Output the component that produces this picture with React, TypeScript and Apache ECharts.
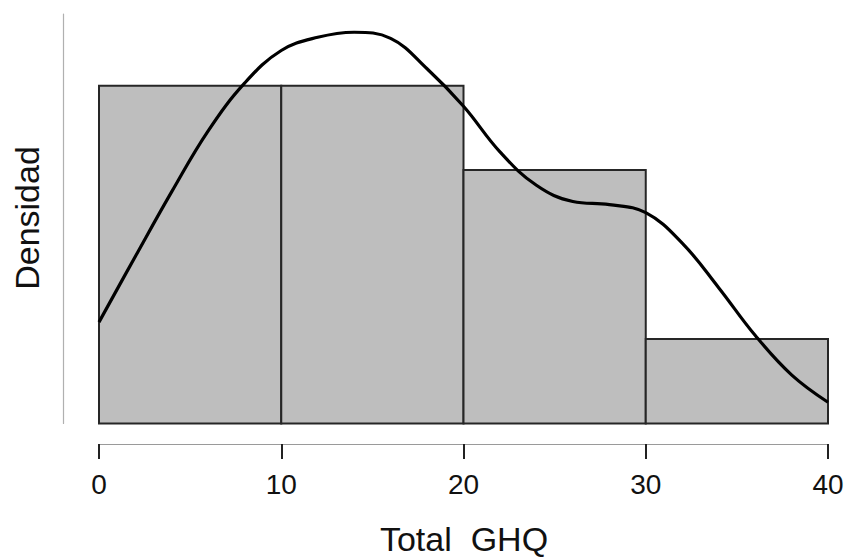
import React, { useEffect, useRef } from "react";
import * as echarts from "echarts";

const binStarts = [0, 10, 20, 30];
const binEnds = [10, 20, 30, 40];
const binDensity = [0.03333, 0.03333, 0.025, 0.00833];

const curveX = [0, 2, 4, 6, 8, 10, 12, 14, 16, 18, 20, 22, 24, 26, 28, 30, 32, 34, 36, 38, 40];
const curveY = [
  0.0100, 0.0165, 0.0229, 0.0289, 0.0336, 0.0368, 0.0381, 0.0386, 0.0380, 0.0350, 0.0313,
  0.0268, 0.0235, 0.0219, 0.0216, 0.0208, 0.0178, 0.0134, 0.0087, 0.0048, 0.0021,
];

const xTicks = [0, 10, 20, 30, 40];
const xTitle = "Total  GHQ";
const yTitle = "Densidad";

const FONT = "Liberation Sans";

export default function App() {
  const ref = useRef<HTMLDivElement>(null);
  useEffect(() => {
    if (!ref.current) return;
    const chart = echarts.init(ref.current, null, { renderer: "svg" });
    const barData = binStarts.map((s, i) => [s, binEnds[i], binDensity[i]]);
    chart.setOption({
      animation: false,
      backgroundColor: "#ffffff",
      grid: { left: 99, right: 20, top: 14, bottom: 134.5 },
      xAxis: {
        type: "value",
        min: xTicks[0],
        max: xTicks[xTicks.length - 1],
        interval: 10,
        offset: 20.5,
        splitLine: { show: false },
        axisLine: { show: true, onZero: false, lineStyle: { color: "#9a9a9a", width: 1.2 } },
        axisTick: { show: true, length: 15, lineStyle: { color: "#222", width: 2 } },
        axisLabel: {
          show: true,
          margin: 26,
          color: "#111",
          fontFamily: FONT,
          fontSize: 28,
        },
      },
      yAxis: {
        type: "value",
        min: 0,
        max: 0.0404,
        offset: 36,
        splitLine: { show: false },
        axisLine: { show: true, onZero: false, lineStyle: { color: "#b0b0b0", width: 1.2 } },
        axisTick: { show: false },
        axisLabel: { show: false },
      },
      graphic: [
        {
          type: "text",
          x: 464,
          y: 539,
          style: {
            text: xTitle,
            fontFamily: FONT,
            fontSize: 34,
            fill: "#111",
            textAlign: "center",
            textVerticalAlign: "middle",
          },
        },
        {
          type: "text",
          x: 27,
          y: 218,
          rotation: Math.PI / 2,
          style: {
            text: yTitle,
            fontFamily: FONT,
            fontSize: 34,
            fill: "#111",
            textAlign: "center",
            textVerticalAlign: "middle",
          },
        },
      ],
      series: [
        {
          type: "custom",
          data: barData,
          renderItem: (params: any, api: any) => {
            const p0 = api.coord([api.value(0), api.value(2)]);
            const p1 = api.coord([api.value(1), 0]);
            return {
              type: "rect",
              shape: { x: p0[0], y: p0[1], width: p1[0] - p0[0], height: p1[1] - p0[1] },
              style: { fill: "#bebebe", stroke: "#262626", lineWidth: 2 },
            };
          },
          z: 1,
        },
        {
          type: "line",
          data: curveX.map((x, i) => [x, curveY[i]]),
          smooth: 0.4,
          showSymbol: false,
          lineStyle: { color: "#000", width: 3.2 },
          z: 5,
        },
      ],
    });
    return () => chart.dispose();
  }, []);
  return <div ref={ref} style={{ width: 848, height: 558, position: "absolute", left: 0, top: 0 }} />;
}
